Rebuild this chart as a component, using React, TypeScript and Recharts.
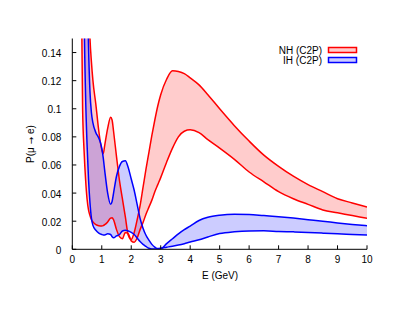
import React from 'react';
import { ComposedChart, Area, Line, XAxis, YAxis, Customized } from 'recharts';

const energies = [0.3, 0.35, 0.4, 0.45, 0.5, 0.55, 0.6, 0.65, 0.7, 0.8, 0.9, 1.0, 1.05, 1.1, 1.2, 1.3, 1.35, 1.4, 1.5, 1.6, 1.7, 1.8, 1.9, 2.0, 2.1, 2.2, 2.3, 2.4, 2.5, 2.6, 2.7, 2.8, 2.9, 3.0, 3.2, 3.4, 3.6, 3.8, 4.0, 4.3, 4.6, 5.0, 5.5, 6.0, 6.5, 7.0, 7.5, 8.0, 8.5, 9.0, 9.5, 10];

const nhHigh = [0.5, 0.42, 0.34, 0.27, 0.22, 0.18, 0.15, 0.133, 0.12, 0.103, 0.084, 0.071, 0.068, 0.074, 0.086, 0.094, 0.092, 0.084, 0.066, 0.049, 0.036, 0.023, 0.010, 0.007, 0.012, 0.021, 0.031, 0.044, 0.057, 0.069, 0.081, 0.092, 0.102, 0.110, 0.121, 0.127, 0.1265, 0.125, 0.122, 0.117, 0.110, 0.100, 0.088, 0.077, 0.067, 0.059, 0.052, 0.046, 0.041, 0.036, 0.033, 0.030];

const nhLow = [0.2, 0.1, 0.07, 0.05, 0.036, 0.028, 0.024, 0.021, 0.0195, 0.0175, 0.0167, 0.0165, 0.0168, 0.0175, 0.0195, 0.0222, 0.0225, 0.021, 0.014, 0.009, 0.0075, 0.012, 0.011, 0.006, 0.005, 0.008, 0.014, 0.019, 0.025, 0.030, 0.035, 0.041, 0.046, 0.051, 0.062, 0.072, 0.080, 0.084, 0.085, 0.083, 0.078, 0.072, 0.064, 0.055, 0.048, 0.041, 0.036, 0.032, 0.028, 0.026, 0.024, 0.022];

const ihHigh = [0.6, 0.5, 0.4, 0.28, 0.2, 0.145, 0.112, 0.097, 0.09, 0.083, 0.079, 0.072, 0.065, 0.056, 0.040, 0.032, 0.034, 0.040, 0.052, 0.059, 0.0625, 0.063, 0.058, 0.050, 0.042, 0.032, 0.022, 0.015, 0.010, 0.0065, 0.0035, 0.0015, 0.0004, 0.0004, 0.004, 0.0075, 0.011, 0.014, 0.0165, 0.0205, 0.0228, 0.0243, 0.025, 0.0248, 0.024, 0.0232, 0.0222, 0.0211, 0.020, 0.0188, 0.0177, 0.0168];

const ihLow = [0.5, 0.3, 0.17, 0.11, 0.075, 0.05, 0.033, 0.022, 0.017, 0.0135, 0.0115, 0.0105, 0.0102, 0.0102, 0.011, 0.0105, 0.009, 0.0082, 0.0095, 0.0105, 0.013, 0.0135, 0.013, 0.012, 0.0105, 0.008, 0.0055, 0.0035, 0.002, 0.0007, 0.0003, 0.0003, 0.0005, 0.0008, 0.0015, 0.0022, 0.003, 0.004, 0.0052, 0.0068, 0.0088, 0.0112, 0.0125, 0.0131, 0.0132, 0.0127, 0.0124, 0.012, 0.0115, 0.011, 0.0106, 0.0102];

const xTicks = [0, 1, 2, 3, 4, 5, 6, 7, 8, 9, 10];
const yTicks = [0, 0.02, 0.04, 0.06, 0.08, 0.1, 0.12, 0.14];
const yTickLabels = ['0', '0.02', '0.04', '0.06', '0.08', '0.1', '0.12', '0.14'];

const seriesNames = ['NH (C2P)', 'IH (C2P)'];
const xLabel = 'E (GeV)';
const yLabelParts = ['P(\u03bc ', '\u2192', ' e)'];

const data = energies.map((e, i) => ({
  e,
  nhLow: nhLow[i],
  nhHigh: nhHigh[i],
  ihLow: ihLow[i],
  ihHigh: ihHigh[i],
  nh: [nhLow[i], nhHigh[i]],
  ih: [ihLow[i], ihHigh[i]],
}));

const FONT = '"Liberation Sans", Arial, Helvetica, sans-serif';
const RED = '#ff0000';
const BLUE = '#0000ff';
const TICK = 4;

const BottomTick = (props: any) => {
  const { x, y, payload } = props;
  return (
    <g>
      <line x1={x} x2={x} y1={y} y2={y - TICK} stroke="#000" strokeWidth={1} />
      <text x={x} y={y + 13.5} textAnchor="middle" fontSize={10} fontFamily={FONT} fill="#000">
        {payload.value}
      </text>
    </g>
  );
};

const TopTick = (props: any) => {
  const { x, y } = props;
  return <line x1={x} x2={x} y1={y} y2={y + TICK} stroke="#000" strokeWidth={1} />;
};

const LeftTick = (props: any) => {
  const { x, y, payload } = props;
  const label = yTickLabels[yTicks.indexOf(payload.value)] ?? String(payload.value);
  return (
    <g>
      <line x1={x} x2={x + TICK} y1={y} y2={y} stroke="#000" strokeWidth={1} />
      <text x={x - 11} y={y + 4.5} textAnchor="end" fontSize={10} fontFamily={FONT} fill="#000">
        {label}
      </text>
    </g>
  );
};

const RightTick = (props: any) => {
  const { x, y } = props;
  return <line x1={x} x2={x - TICK} y1={y} y2={y} stroke="#000" strokeWidth={1} />;
};

const Decorations = () => (
  <g fontFamily={FONT} fontSize={10} fill="#000">
    <text x={220} y={278.5} textAnchor="middle">{xLabel}</text>
    <text x={34} y={144} textAnchor="middle" transform="rotate(-90 34 144)">
      {yLabelParts[0]}
      <tspan fontFamily='"DejaVu Sans", sans-serif' fontSize={9}>{yLabelParts[1]}</tspan>
      {yLabelParts[2]}
    </text>
    <text x={322} y={53.5} textAnchor="end">{seriesNames[0]}</text>
    <rect x={328.5} y={47.5} width={28} height={5} fill={RED} fillOpacity={0.2} stroke={RED} strokeWidth={1.5} />
    <text x={322} y={63.5} textAnchor="end">{seriesNames[1]}</text>
    <rect x={328.5} y={57.5} width={28} height={5} fill={BLUE} fillOpacity={0.2} stroke={BLUE} strokeWidth={1.5} />
  </g>
);

export default function App() {
  return (
    <div style={{ position: 'absolute', left: 0, top: 0, width: 403, height: 312, background: '#fff' }}>
      <ComposedChart
        width={403}
        height={312}
        data={data}
        margin={{ top: 38.5, right: 36, left: 0, bottom: 22.7 }}
      >
        <XAxis
          dataKey="e"
          type="number"
          domain={[0, 10]}
          ticks={xTicks}
          interval={0}
          allowDataOverflow
          tickSize={0}
          tickMargin={0}
          tick={<BottomTick />}
          axisLine={{ stroke: '#000', strokeWidth: 1 }}
          height={40}
        />
        <XAxis
          xAxisId="top"
          orientation="top"
          dataKey="e"
          type="number"
          domain={[0, 10]}
          ticks={xTicks}
          interval={0}
          allowDataOverflow
          tickSize={0}
          tickMargin={0}
          tick={<TopTick />}
          axisLine={{ stroke: '#000', strokeWidth: 1 }}
          height={0}
        />
        <YAxis
          type="number"
          domain={[0, 0.15]}
          ticks={yTicks}
          interval={0}
          allowDataOverflow
          tickSize={0}
          tickMargin={0}
          tick={<LeftTick />}
          axisLine={{ stroke: '#000', strokeWidth: 1 }}
          width={72.3}
        />
        <YAxis
          yAxisId="right"
          orientation="right"
          type="number"
          domain={[0, 0.15]}
          ticks={yTicks}
          interval={0}
          allowDataOverflow
          tickSize={0}
          tickMargin={0}
          tick={<RightTick />}
          axisLine={{ stroke: '#000', strokeWidth: 1 }}
          width={0}
        />
        <Area dataKey="nh" type="monotone" stroke="none" fill={RED} fillOpacity={0.2} isAnimationActive={false} />
        <Line dataKey="nhHigh" type="monotone" stroke={RED} strokeWidth={1.5} dot={false} isAnimationActive={false} />
        <Line dataKey="nhLow" type="monotone" stroke={RED} strokeWidth={1.5} dot={false} isAnimationActive={false} />
        <Area dataKey="ih" type="monotone" stroke="none" fill={BLUE} fillOpacity={0.2} isAnimationActive={false} />
        <Line dataKey="ihHigh" type="monotone" stroke={BLUE} strokeWidth={1.5} dot={false} isAnimationActive={false} />
        <Line dataKey="ihLow" type="monotone" stroke={BLUE} strokeWidth={1.5} dot={false} isAnimationActive={false} />
        <Customized component={Decorations} />
      </ComposedChart>
    </div>
  );
}
